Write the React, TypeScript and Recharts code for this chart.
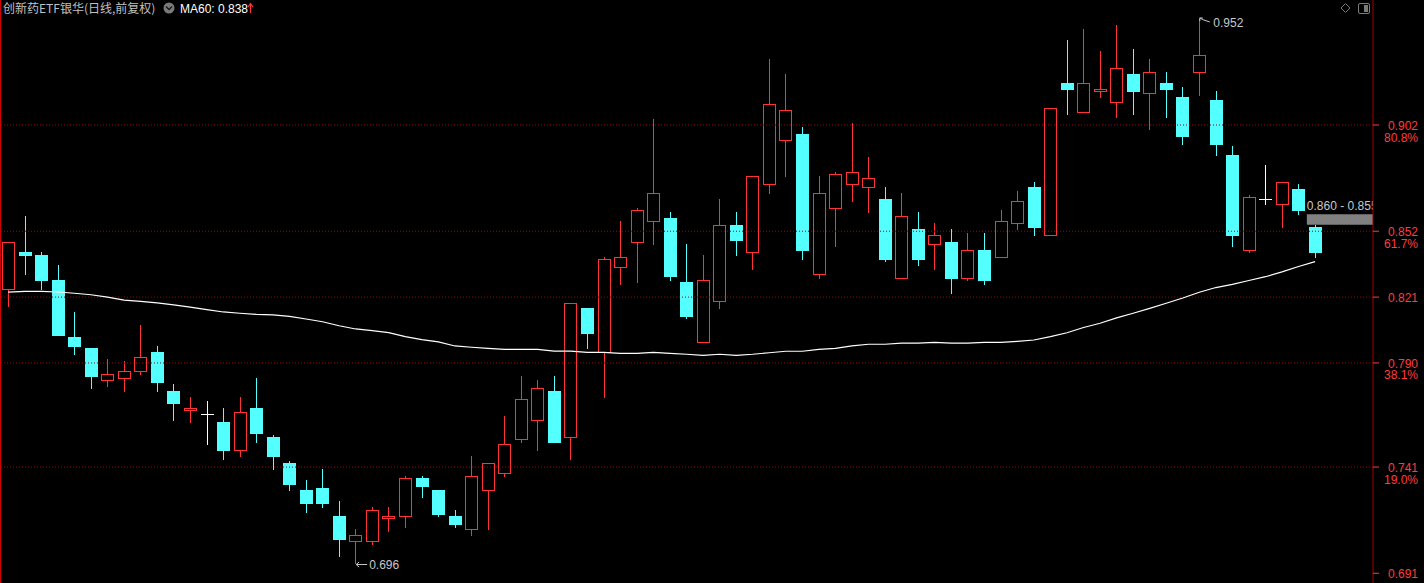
import React from 'react';
import {
  ComposedChart,
  Bar,
  Line,
  XAxis,
  YAxis,
  ReferenceLine,
  ReferenceDot,
  ReferenceArea,
} from 'recharts';

// ---- data ----
const opens = [
  0.825, 0.842, 0.841, 0.829, 0.802, 0.797, 0.782, 0.783, 0.786, 0.795,
  0.777, 0.768, 0.766, 0.762, 0.749, 0.769, 0.755, 0.743, 0.730, 0.731,
  0.718, 0.706, 0.706, 0.717, 0.718, 0.736, 0.730, 0.718, 0.712, 0.730,
  0.738, 0.754, 0.763, 0.777, 0.755, 0.816, 0.795, 0.835, 0.847, 0.857,
  0.858, 0.828, 0.800, 0.819, 0.855, 0.842, 0.874, 0.895, 0.898, 0.832,
  0.863, 0.874, 0.873, 0.867, 0.830, 0.853, 0.846, 0.847, 0.830, 0.843,
  0.840, 0.856, 0.873, 0.850, 0.922, 0.908, 0.918, 0.913, 0.926, 0.917,
  0.922, 0.915, 0.927, 0.914, 0.888, 0.843, 0.867, 0.865, 0.872, 0.854,
];
const highs = [
  0.847, 0.859, 0.842, 0.836, 0.814, 0.797, 0.792, 0.791, 0.808, 0.798,
  0.780, 0.774, 0.772, 0.769, 0.774, 0.783, 0.756, 0.744, 0.735, 0.740,
  0.725, 0.712, 0.722, 0.722, 0.737, 0.737, 0.730, 0.721, 0.746, 0.743,
  0.765, 0.784, 0.782, 0.784, 0.818, 0.816, 0.840, 0.857, 0.863, 0.905,
  0.861, 0.846, 0.841, 0.867, 0.861, 0.878, 0.933, 0.926, 0.901, 0.878,
  0.880, 0.903, 0.887, 0.873, 0.870, 0.861, 0.856, 0.853, 0.851, 0.851,
  0.862, 0.871, 0.875, 0.910, 0.942, 0.947, 0.937, 0.949, 0.938, 0.933,
  0.927, 0.920, 0.952, 0.918, 0.892, 0.869, 0.883, 0.875, 0.874, 0.855,
];
const lows = [
  0.817, 0.832, 0.825, 0.803, 0.794, 0.778, 0.779, 0.777, 0.785, 0.777,
  0.763, 0.762, 0.752, 0.745, 0.746, 0.753, 0.740, 0.730, 0.720, 0.722,
  0.699, 0.696, 0.705, 0.711, 0.713, 0.727, 0.718, 0.713, 0.709, 0.712,
  0.737, 0.753, 0.749, 0.753, 0.745, 0.797, 0.774, 0.827, 0.828, 0.846,
  0.829, 0.811, 0.800, 0.816, 0.841, 0.834, 0.870, 0.878, 0.839, 0.830,
  0.845, 0.866, 0.861, 0.838, 0.830, 0.836, 0.834, 0.823, 0.829, 0.827,
  0.840, 0.853, 0.850, 0.850, 0.907, 0.908, 0.915, 0.906, 0.907, 0.900,
  0.906, 0.893, 0.916, 0.888, 0.845, 0.842, 0.865, 0.854, 0.860, 0.840,
];
const closes = [
  0.847, 0.841, 0.829, 0.803, 0.798, 0.784, 0.785, 0.786, 0.793, 0.781,
  0.771, 0.769, 0.766, 0.749, 0.767, 0.757, 0.746, 0.733, 0.724, 0.724,
  0.707, 0.709, 0.721, 0.718, 0.736, 0.732, 0.719, 0.714, 0.737, 0.743,
  0.752, 0.773, 0.778, 0.753, 0.818, 0.804, 0.839, 0.840, 0.862, 0.870,
  0.831, 0.812, 0.829, 0.855, 0.848, 0.878, 0.912, 0.909, 0.843, 0.870,
  0.879, 0.880, 0.877, 0.839, 0.859, 0.839, 0.850, 0.830, 0.843, 0.829,
  0.857, 0.866, 0.854, 0.910, 0.919, 0.922, 0.919, 0.929, 0.918, 0.927,
  0.919, 0.897, 0.935, 0.893, 0.850, 0.868, 0.867, 0.875, 0.862, 0.842,
];
const ma60 = [
  0.8233, 0.8237, 0.8237, 0.8234, 0.8228, 0.8221, 0.8210, 0.8196, 0.8190, 0.8183,
  0.8173, 0.8163, 0.8151, 0.8140, 0.8134, 0.8129, 0.8126, 0.8119, 0.8107, 0.8094,
  0.8075, 0.8060, 0.8052, 0.8043, 0.8024, 0.8010, 0.7999, 0.7980, 0.7974, 0.7969,
  0.7964, 0.7964, 0.7964, 0.7956, 0.7956, 0.7950, 0.7950, 0.7945, 0.7945, 0.7950,
  0.7945, 0.7941, 0.7936, 0.7941, 0.7936, 0.7941, 0.7948, 0.7955, 0.7955, 0.7964,
  0.7969, 0.7980, 0.7988, 0.7988, 0.7993, 0.7993, 0.7997, 0.7993, 0.7993, 0.7997,
  0.7997, 0.8002, 0.8008, 0.8024, 0.8042, 0.8067, 0.8087, 0.8112, 0.8134, 0.8157,
  0.8181, 0.8206, 0.8233, 0.8255, 0.8270, 0.8288, 0.8306, 0.8329, 0.8354, 0.8377,
];
const PAD_SLOTS = 3; // empty slots at the right end of the time axis

const yTicks = [0.691, 0.741, 0.79, 0.821, 0.852, 0.902];
const yTickPct = ['', '19.0%', '38.1%', '', '61.7%', '80.8%'];
const gridLevels = [0.741, 0.79, 0.821, 0.852, 0.902];
const Y_DOMAIN: [number, number] = [0.68643, 0.96084];

const lowMark = { index: 21, value: 0.696, label: '0.696' };
const highMark = { index: 72, value: 0.952, label: '0.952' };
const gapBand = { from: 79, low: 0.855, high: 0.86, label: '0.860 - 0.855' };

const titleText = '创新药ETF银华(日线,前复权)';
const maText = 'MA60: 0.838';

// ---- styles ----
const UP = '#FF3333';
const DOWN = '#54FFFF';
const FLAT = '#FFFFFF';
const GRID = '#A00000';
const AXIS = '#A80000';
const AXIS_TEXT = '#FF3C3C';
const NOTE = '#C8C8C8';
const NUM_FONT = '"Liberation Sans", Arial, sans-serif';
const CJK_FONT = '"Noto Sans CJK SC", sans-serif';
const BODY_W = 13;

const rows = Array.from({ length: opens.length + PAD_SLOTS }, (_, i) => ({
  i,
  o: i < opens.length ? opens[i] : null,
  h: i < opens.length ? highs[i] : null,
  l: i < opens.length ? lows[i] : null,
  c: i < opens.length ? closes[i] : null,
  ma: i < opens.length ? ma60[i] : null,
}));

const Candle = (props: any) => {
  const { x, y, width, height, payload } = props;
  if (!payload || payload.o == null) return null;
  const { o, h, l, c } = payload;
  const top = Math.min(y, y + height);
  const bot = Math.max(y, y + height);
  const k = h - l !== 0 ? (bot - top) / (h - l) : 0;
  const py = (v: number) => top + (h - v) * k;
  const left = Math.round(x + width / 2 - BODY_W / 2);
  const wx = left + Math.floor(BODY_W / 2) + 0.5;
  const yH = Math.round(py(h));
  const yL = Math.round(py(l));
  const yO = Math.round(py(o));
  const yC = Math.round(py(c));
  if (o === c) {
    return (
      <g>
        <line x1={wx} x2={wx} y1={yH} y2={yL + 1} stroke={FLAT} strokeWidth={1} />
        <line x1={left} x2={left + BODY_W} y1={yO + 0.5} y2={yO + 0.5} stroke={FLAT} strokeWidth={1} />
      </g>
    );
  }
  const bt = Math.min(yO, yC);
  let bb = Math.max(yO, yC);
  if (bb - bt < 1) bb = bt + 1;
  if (c > o) {
    return (
      <g>
        {yH < bt && <line x1={wx} x2={wx} y1={yH} y2={bt} stroke={UP} strokeWidth={1} />}
        {yL > bb && <line x1={wx} x2={wx} y1={bb} y2={yL + 1} stroke={UP} strokeWidth={1} />}
        <rect x={left + 0.5} y={bt + 0.5} width={BODY_W - 1} height={bb - bt} fill="none" stroke={UP} strokeWidth={1} />
      </g>
    );
  }
  return (
    <g>
      <line x1={wx} x2={wx} y1={yH} y2={yL + 1} stroke={DOWN} strokeWidth={1} />
      <rect x={left} y={bt} width={BODY_W} height={Math.max(2, bb - bt + 1)} fill={DOWN} />
    </g>
  );
};

const PriceTick = (props: any) => {
  const { x, y, payload } = props;
  const idx = yTicks.indexOf(payload.value);
  const pct = idx >= 0 ? yTickPct[idx] : '';
  const rx = x + 37;
  return (
    <g>
      <text x={rx} y={y + 5} textAnchor="end" fill={AXIS_TEXT} fontSize={12} fontFamily={NUM_FONT}>
        {Number(payload.value).toFixed(3)}
      </text>
      {pct ? (
        <text x={rx} y={y + 16.5} textAnchor="end" fill={AXIS_TEXT} fontSize={12} fontFamily={NUM_FONT}>
          {pct}
        </text>
      ) : null}
    </g>
  );
};

const LowNote = (props: any) => {
  const { cx, cy } = props;
  const ax = cx + 0.5;
  const ay = Math.round(cy) + 1.5;
  return (
    <g>
      <path d={`M${ax} ${ay} L${ax + 11} ${ay} M${ax} ${ay} L${ax + 3} ${ay - 2.5} M${ax} ${ay} L${ax + 3} ${ay + 2.5}`} stroke={NOTE} strokeWidth={1} fill="none" />
      <text x={cx + 13.5} y={ay + 4.5} fill={NOTE} fontSize={12} fontFamily={NUM_FONT}>
        {lowMark.label}
      </text>
    </g>
  );
};

const HighNote = (props: any) => {
  const { cx, cy } = props;
  const ax = cx + 0.5;
  const ay = Math.round(cy) - 1;
  return (
    <g>
      <path d={`M${ax} ${ay} L${ax + 4} ${ay + 2} L${ax + 10} ${ay + 4} M${ax} ${ay} L${ax} ${ay + 3} M${ax} ${ay} L${ax + 3} ${ay}`} stroke={NOTE} strokeWidth={1} fill="none" />
      <text x={cx + 14} y={ay + 9} fill={NOTE} fontSize={12} fontFamily={NUM_FONT}>
        {highMark.label}
      </text>
    </g>
  );
};

const GapLabel = (props: any) => {
  const vb = props.viewBox || {};
  if (vb.x == null) return null;
  return (
    <svg x={vb.x - 2} y={vb.y - 16} width={vb.width + 2} height={16} overflow="hidden">
      <text x={2} y={12} fill={NOTE} fontSize={12} fontFamily={NUM_FONT}>
        {gapBand.label}
      </text>
    </svg>
  );
};

export default function App() {
  return (
    <div style={{ position: 'relative', width: 1424, height: 583, background: '#000', overflow: 'hidden' }}>
      <style>{`html,body{margin:0;padding:0;background:#000;}`}</style>
      <ComposedChart
        width={1424}
        height={583}
        data={rows}
        margin={{ top: 0, right: 0, bottom: 0, left: 0 }}
        barCategoryGap={0}
      >
        <XAxis dataKey="i" type="category" hide />
        <YAxis
          orientation="right"
          type="number"
          domain={Y_DOMAIN}
          allowDataOverflow
          ticks={yTicks}
          interval={0}
          width={51}
          axisLine={{ stroke: AXIS, strokeWidth: 1 }}
          tickLine={{ stroke: AXIS_TEXT, strokeWidth: 1 }}
          tickSize={6}
          tick={<PriceTick />}
        />
        {gridLevels.map((v) => (
          <ReferenceLine key={v} y={v} stroke={GRID} strokeDasharray="1 2" strokeWidth={1} />
        ))}
        <Bar
          dataKey={(d: any) => (d.h == null ? null : [d.l, d.h])}
          barSize={BODY_W}
          shape={<Candle />}
          isAnimationActive={false}
        />
        <Line
          dataKey="ma"
          type="linear"
          stroke="#FFFFFF"
          strokeWidth={1.2}
          dot={false}
          activeDot={false}
          isAnimationActive={false}
          connectNulls={false}
        />
        <ReferenceArea
          x1={gapBand.from}
          y1={gapBand.low}
          y2={gapBand.high}
          fill="#808080"
          fillOpacity={1}
          stroke="none"
          label={<GapLabel />}
        />
        <ReferenceDot x={lowMark.index} y={lowMark.value} r={0} shape={<LowNote />} />
        <ReferenceDot x={highMark.index} y={highMark.value} r={0} shape={<HighNote />} />
      </ComposedChart>
      {/* left frame line */}
      <div style={{ position: 'absolute', left: 0, top: 0, width: 1, height: 583, background: '#D00000' }} />
      {/* header */}
      <svg width={1424} height={20} style={{ position: 'absolute', left: 0, top: 0 }}>
        <text x={3} y={12.5} fill="#C0C0C0" fontSize={12} fontFamily={CJK_FONT}>
          {titleText}
        </text>
        <circle cx={169} cy={8} r={5.5} fill="#7A7A7A" />
        <path d="M166 6.5 L169 9.5 L172 6.5" stroke="#1A1A1A" strokeWidth={1.4} fill="none" />
        <text x={180} y={12.5} fill="#FFFFFF" fontSize={12} fontFamily={NUM_FONT}>
          {maText}
        </text>
        <path d="M250.5 4 L250.5 13 M248 7 L250.5 3.5 L253 7" stroke={UP} strokeWidth={1.2} fill="none" />
        <path d="M1345.5 3.5 L1350 8 L1345.5 12.5 L1341 8 Z" stroke="#7A7A7A" strokeWidth={1} fill="none" />
        <rect x={1358.5} y={3.5} width={11} height={10} rx={1.5} stroke="#7A7A7A" strokeWidth={1} fill="none" />
        <rect x={1364} y={5} width={4} height={7} fill="#7A7A7A" />
      </svg>
    </div>
  );
}
